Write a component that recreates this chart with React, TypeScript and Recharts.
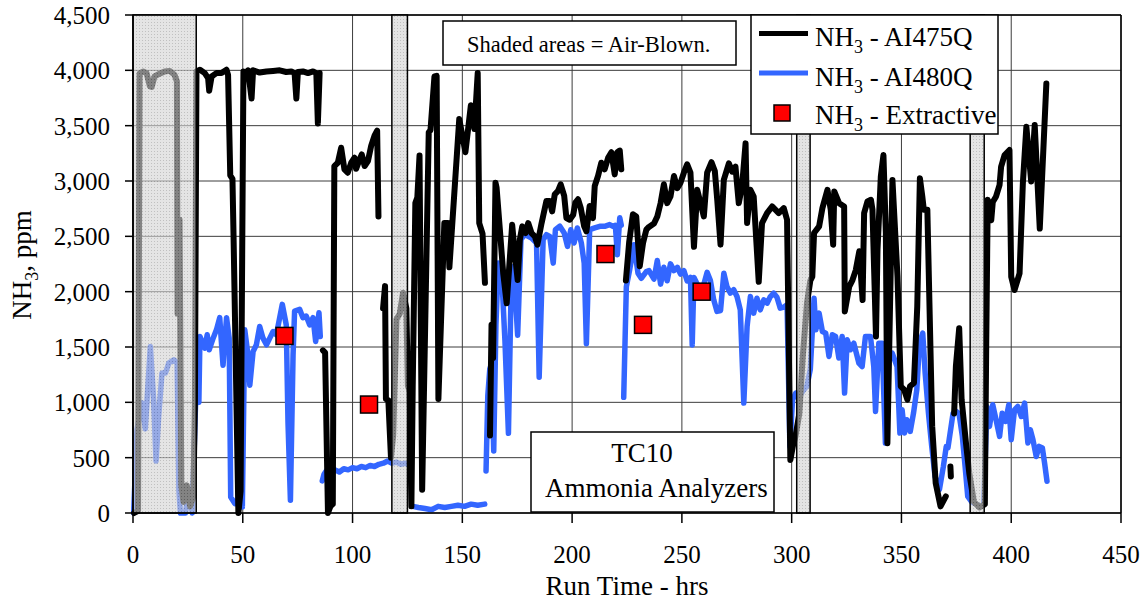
import { ComposedChart, Line, Scatter, XAxis, YAxis, CartesianGrid, ReferenceArea, ReferenceLine } from 'recharts';

type Pt = [number, number];

const hourTicks = [0, 50, 100, 150, 200, 250, 300, 350, 400, 450];
const ppmTicks = [0, 500, 1000, 1500, 2000, 2500, 3000, 3500, 4000, 4500];

// air-blown periods (hrs)
const airBlown: Pt[] = [[0, 28.8], [117.9, 125], [302.3, 308.4], [381.3, 387.7]];

// NH3 - AI475Q
const ai475Seg1: Pt[] = [[0.5, 0], [2.3, 20], [3.0, 3970], [4.6, 3990], [6.2, 3975], [7.7, 3855], [8.5, 3850], [9.8, 3945], [12.1, 3970], [14.4, 3990], [16.7, 3995], [18.9, 3960], [20, 3900], [20.3, 1800], [21.2, 2650], [22, 250], [23, 100], [24.5, 250], [26, 60], [27.5, 150], [28.2, 1000], [28.9, 3990], [30.5, 4005], [32.7, 3975], [34.2, 3930], [34.7, 3815], [35.8, 3945], [38, 3975], [40.3, 3975], [42.6, 4005], [43.3, 3960], [44.3, 3050], [45.3, 3020], [45.8, 2500], [48, 0], [49, 200], [50.3, 3990], [51.2, 3975], [52.4, 4000], [54, 3745], [54.7, 4000], [57.7, 3980], [60.8, 3990], [63.8, 3995], [66.8, 4000], [69.8, 3985], [72.1, 3990], [73.6, 3975], [74.4, 3745], [75.1, 3985], [77.4, 3990], [79.7, 3975], [82, 3990], [83.5, 3975], [84.2, 3520], [85, 3975]];
const ai475Seg2: Pt[] = [[86.5, 1470], [87.5, 1450], [88.8, 0], [89.9, 60], [91, 80], [91.7, 3135], [93.3, 3165], [94.8, 3300], [96.3, 3105], [97.8, 3075], [99.4, 3165], [100.9, 3210], [101.6, 3110], [103.2, 3195], [104.2, 3240], [105.5, 3135], [107, 3180], [108.5, 3320], [110, 3410], [111.2, 3455], [111.8, 2680]];
const ai475Seg3: Pt[] = [[113.9, 1850], [114.8, 2050], [115.2, 1030], [116.3, 1020], [117.5, 500], [118.5, 700], [120, 1750], [121.5, 1800], [123, 1990], [124.5, 1850], [125.2, 1150], [126, 1100], [126.8, 60], [127.4, 1140], [128.6, 2800], [129.5, 2850], [130.5, 3230], [131.7, 210], [134.7, 3440], [135.5, 3460], [137.3, 3945], [138.3, 3950], [139.1, 1030], [141.8, 2620], [143.4, 2620], [144.1, 2220], [148.6, 3560], [151.4, 3260], [153.9, 3685], [155.5, 3470], [157, 3975], [157.7, 2620], [159.2, 2525], [160.3, 2080]];
const ai475Seg4: Pt[] = [[162.6, 700], [163.3, 1700], [164, 1400], [165.1, 2985], [165.6, 2940], [167.1, 2560], [168.6, 2170], [170.2, 1895], [171.7, 2320], [172.7, 2605], [173.9, 2350], [175.2, 2105], [176.2, 2470], [177.3, 2590], [178.8, 2530], [180, 2620], [181.5, 2530], [183, 2500], [184.2, 2425], [186.1, 2620], [188.3, 2820], [189.8, 2820], [190.9, 2725], [192.1, 2880], [193.6, 2910], [194.8, 2970], [196.4, 2865], [197.4, 2665], [198.9, 2650], [200.5, 2695], [201.5, 2805], [202.7, 2835], [203.9, 2760], [205.5, 2590], [206.5, 2545], [208, 2775], [209.5, 2665], [210.3, 2955], [211.8, 3045], [213.3, 3165], [214.8, 3105], [216.4, 3210], [217.9, 3260], [219.4, 3060], [220.6, 3260], [221.7, 3275], [222.4, 3105]];
const ai475Seg5: Pt[] = [[224.5, 2100], [226, 2450], [227.7, 2700], [229.2, 2680], [230.8, 2230], [232.3, 2440], [233.8, 2560], [235, 2585], [237.3, 2615], [238.8, 2680], [240.3, 2800], [241.8, 2970], [243.3, 2800], [244.8, 2860], [246.4, 3045], [247.9, 2935], [249.4, 2985], [250.9, 3075], [252.4, 3150], [253.9, 3075], [255.5, 2405], [257, 2920], [258.5, 2800], [260, 2680], [261.5, 3075], [263.5, 3170], [265, 3090], [266.1, 2830], [267.6, 2425], [269.1, 3010], [271.4, 3160], [272.9, 3085], [274.4, 3130], [275.9, 2800], [277.4, 2950], [279, 3340], [279.7, 2620], [281.2, 2920], [282.7, 2860], [285, 2090], [286.5, 2620], [288.8, 2710], [291.1, 2770], [294.1, 2710], [296.4, 2755], [297.9, 2650], [299.4, 480], [300.5, 600], [301.7, 690], [303.5, 900], [305, 1400], [307, 1900], [308.5, 2100], [309.4, 2135], [310.2, 2530], [312.5, 2590], [314, 2755], [316.3, 2920], [317.8, 2740], [318.9, 2425], [319.4, 2905], [321.6, 2800], [323.9, 2770], [324.2, 1820], [326.2, 2045], [327.7, 2105], [329.2, 2195], [330.8, 2365], [332.3, 1925], [333, 2710], [334.5, 2815], [336.1, 2830], [336.8, 2740], [338.4, 1595], [339.1, 2380], [340.6, 3040], [341.8, 3235], [342.9, 2530], [343.6, 630], [345.9, 3010], [348.2, 2135], [349.7, 1145], [351.2, 1115], [352.7, 1025], [353.9, 1145], [355.7, 1175], [357.2, 1865], [358.4, 3025], [359.5, 2860], [360.2, 2740], [361.8, 2740], [364, 785], [365.6, 270], [367.8, 60], [370.2, 150]];
const ai475Seg6: Pt[] = [[372.3, 420], [372.5, 330]];
const ai475Seg7: Pt[] = [[374, 900], [374.8, 1325], [376.3, 1670], [377.4, 1025], [379.4, 630], [380.9, 360], [383, 100], [385.5, 50], [388, 80], [388.6, 1500], [389.3, 2830], [390.9, 2645], [391.6, 2810], [393.1, 2860], [394.7, 2965], [395.4, 3130], [397, 3235], [399.2, 3280], [400, 2135], [401.5, 2015], [403.8, 2165], [405.3, 2980], [406.9, 3490], [409.1, 2995], [410.7, 3505], [413, 2570], [416, 3880]];

// NH3 - AI480Q
const ai480Seg1: Pt[] = [[0.3, 0], [1.8, 750], [4.1, 995], [5.6, 760], [7.9, 1505], [9.4, 1025], [10.5, 470], [11.7, 875], [13.2, 1265], [14.8, 1265], [16.3, 1355], [18.6, 1385], [20.1, 1355], [20.9, 210], [21.6, 0], [23.9, 0], [25.5, 210], [27, 0], [28.5, 995], [30, 1000], [30.5, 1595], [32.7, 1490], [33.8, 1610], [34.7, 1475], [36.5, 1580], [38, 1655], [39.5, 1765], [41, 1335], [42.6, 1765], [43.8, 1580], [44.5, 145], [46.4, 85], [47.9, 115], [48.6, 1425], [49.8, 55], [50.9, 1655], [52.4, 1425], [53.2, 1155], [54.7, 1460], [56.2, 1520], [57.7, 1685], [59.2, 1580], [60.8, 1520], [62.3, 1580], [63.8, 1640], [65.3, 1610], [66.8, 1765], [68, 1885], [69.8, 1700], [70.6, 815], [71.7, 115], [72.9, 1425], [73.6, 1825], [75.9, 1840], [77.4, 1765], [78.9, 1780], [80.5, 1700], [82, 1765], [83.2, 1550], [84.7, 1810], [85.3, 1595]];
const ai480Seg2: Pt[] = [[86.2, 290], [87, 350], [88, 380], [89, 330], [90, 370], [92, 390], [94, 370], [96, 400], [98, 390], [100, 410], [102, 400], [104, 420], [106, 410], [108, 430], [110, 420], [112, 440], [114, 450], [116, 470], [118, 450], [120, 460], [122, 440], [124, 450], [126, 430]];
const ai480Seg3: Pt[] = [[127.5, 60], [130, 50], [133, 40], [136, 30], [139, 60], [142, 50], [145, 60], [148, 70], [151, 60], [154, 80], [157, 70], [160.2, 80]];
const ai480Seg4: Pt[] = [[160.8, 380], [161.6, 1060], [162.5, 1300], [163.3, 1350], [164.3, 560], [165.3, 1700], [166.4, 2258], [167.9, 2167], [169.4, 1560], [171, 720], [172.4, 2227], [173.6, 2136], [175.2, 1606], [176.7, 2470], [178.2, 2515], [180, 2500], [181.5, 2485], [183.8, 2440], [185, 1227], [186.8, 2470], [188.3, 2515], [189.8, 2500], [191.4, 2258], [192.4, 2560], [194.4, 2591], [196.4, 2530], [197.9, 2409], [199.4, 2560], [200.9, 2440], [202.4, 2576], [204.2, 2440], [205.5, 2258], [206.5, 1530], [208, 2560], [210.3, 2576], [212.6, 2591], [214.8, 2590], [217.1, 2606], [218.6, 2590], [219.7, 2600], [220.6, 2333], [221.7, 2667], [222.4, 2600]];
const ai480Seg5: Pt[] = [[223.5, 1045], [224.7, 2045], [226.2, 2197], [228.2, 2424], [230, 2167], [231.5, 2121], [233.8, 2182], [235, 2190], [237.3, 2114], [238.8, 2281], [240.3, 2068], [241.8, 2220], [243.3, 2098], [244.8, 2251], [246.4, 2190], [247.9, 2220], [249.4, 2159], [250.9, 2190], [252.4, 2098], [253.9, 2129], [254.7, 1519], [255.5, 2129], [257, 2068], [258.5, 2007], [260, 2068], [261.5, 2175], [263, 2100], [264.5, 1926], [266, 1821], [267.6, 1830], [269.1, 2167], [270.5, 2047], [272.1, 1987], [273.6, 2017], [275.1, 1956], [276.6, 1836], [278.2, 993], [279.7, 1686], [281.2, 1956], [282.7, 1806], [284.2, 1941], [285.7, 1836], [287.3, 1926], [288.8, 1896], [290.3, 1956], [291.8, 1987], [293.3, 1950], [294.8, 1851], [296.4, 1860], [297.9, 1881], [299.2, 602], [300.4, 1023], [301.9, 1084], [303.5, 1050], [305, 1100], [307, 1150], [308.5, 1300], [310.2, 1941], [311, 1655], [312.5, 1806], [314, 1640], [315.5, 1625], [317, 1415], [318.5, 1610], [320, 1595], [321.5, 1400], [323, 1595], [324.1, 1084], [325.3, 1565], [326.8, 1475], [328.3, 1535], [330.6, 1355], [332.1, 1324], [333.6, 1595], [335.9, 1595], [337.4, 1324], [338.2, 918], [339.7, 1535], [341.2, 1535], [342.7, 632], [344.3, 1445], [345.8, 1445], [348, 1324], [349.3, 722], [350.3, 933], [351.4, 722], [352.5, 843], [354, 737], [355.5, 903], [357, 1114], [358.2, 1535], [359.7, 1625], [360.8, 1264], [362.3, 903], [363.8, 602], [365.3, 331], [367.3, 211], [369.1, 421], [370.4, 600], [371.2, 590], [373.5, 900], [374.8, 920], [376.2, 900], [377.7, 700], [379, 420], [380.2, 150], [382, 100], [384, 80], [386, 60], [387.5, 75], [388.9, 963], [390.1, 782], [391.6, 978], [393.1, 842], [394.7, 692], [395.9, 902], [397.4, 827], [398.9, 978], [400, 662], [401.5, 932], [403, 963], [404.6, 872], [406.1, 993], [407.6, 632], [408.7, 752], [409.9, 662], [411.4, 511], [412.7, 602], [414.2, 587], [415.2, 451], [416.3, 286]];

// NH3 - Extractive samples
const extractive: Pt[] = [[69, 1600], [107.5, 980], [215.2, 2340], [232.3, 1700], [259, 2000]];

const toRows = (segs: Pt[][]) =>
  segs.flatMap((seg, i) => {
    const rows = seg.map(([hr, ppm]) => ({ hr, ppm }));
    if (i === 0) return rows;
    const prev = segs[i - 1];
    return [{ hr: (prev[prev.length - 1][0] + seg[0][0]) / 2, ppm: null }, ...rows];
  });

const ai475Data = toRows([ai475Seg1, ai475Seg2, ai475Seg3, ai475Seg4, ai475Seg5, ai475Seg6, ai475Seg7]);
const ai480Data = toRows([ai480Seg1, ai480Seg2, ai480Seg3, ai480Seg4, ai480Seg5]);
const extractiveData = extractive.map(([hr, ppm]) => ({ hr, ppm }));

const FONT = "'Liberation Serif', 'Times New Roman', serif";
const BLUE = '#3366FF';
const tickStyle = { fill: '#000', fontSize: 25, fontFamily: FONT };

const SquareMark = (props: any) => {
  const { cx, cy } = props;
  if (cx == null || cy == null) return null;
  return <rect x={cx - 8.5} y={cy - 8.5} width={17} height={17} fill="#FF0000" stroke="#000" strokeWidth={1.5} />;
};

const App = () => {
  return (
    <div style={{ position: 'absolute', left: 0, top: 0, width: 1147, height: 601, background: '#fff', fontFamily: FONT }}>
      <svg width={0} height={0} style={{ position: 'absolute' }}>
        <defs>
          <pattern id="airBlownFill" patternUnits="userSpaceOnUse" width={3} height={3}>
            <rect width={3} height={3} fill="#d4d4d4" />
            <rect x={1} y={1} width={1} height={1} fill="#9a9a9a" />
          </pattern>
        </defs>
      </svg>
      <ComposedChart width={1147} height={601} margin={{ top: 15, right: 26, bottom: 58, left: 0 }}>
        <CartesianGrid stroke="#3c3c3c" strokeWidth={1} />
        <XAxis
          dataKey="hr"
          type="number"
          domain={[0, 450]}
          ticks={hourTicks}
          interval={0}
          height={30}
          tickSize={10}
          tickMargin={22}
          tick={tickStyle}
          stroke="#000"
          strokeWidth={1.5}
        />
        <YAxis
          type="number"
          domain={[0, 4500]}
          ticks={ppmTicks}
          interval={0}
          width={133}
          tickSize={8}
          tickMargin={15}
          tick={tickStyle}
          tickFormatter={(v: number) => v.toLocaleString('en-US')}
          stroke="#000"
          strokeWidth={1.5}
        />
        <ReferenceLine y={4500} stroke="#000" strokeWidth={1.5} />
        <ReferenceLine x={450} stroke="#000" strokeWidth={1.5} />
        <Line data={ai480Data} dataKey="ppm" type="linear" stroke={BLUE} strokeWidth={5.5} strokeLinejoin="round" strokeLinecap="round" dot={false} activeDot={false} isAnimationActive={false} />
        <Line data={ai475Data} dataKey="ppm" type="linear" stroke="#000" strokeWidth={6} strokeLinejoin="round" strokeLinecap="round" dot={false} activeDot={false} isAnimationActive={false} />
        {airBlown.map(([x1, x2]) => (
          <ReferenceArea
            key={x1}
            x1={x1}
            x2={x2}
            y1={0}
            y2={4500}
            fill="url(#airBlownFill)"
            fillOpacity={0.62}
            stroke="#000"
            strokeWidth={1.5}
            strokeOpacity={1}
            zIndex={450}
          />
        ))}
        <Scatter data={extractiveData} dataKey="ppm" shape={SquareMark} isAnimationActive={false} />
      </ComposedChart>
      <svg width={1147} height={601} style={{ position: 'absolute', left: 0, top: 0, pointerEvents: 'none' }} fontFamily={FONT}>
        <rect x={443} y={21} width={293} height={44} fill="#fff" stroke="#000" strokeWidth={1.5} />
        <text x={467} y={52} fontSize={22.5}>Shaded areas = Air-Blown.</text>

        <rect x={751} y={15} width={247} height={119} fill="#fff" stroke="#000" strokeWidth={1.5} />
        <line x1={759} x2={808} y1={33.5} y2={33.5} stroke="#000" strokeWidth={5} />
        <text x={815} y={46} fontSize={27}>NH<tspan dy={7} fontSize={18}>3</tspan><tspan dy={-7}> - AI475Q</tspan></text>
        <line x1={759} x2={808} y1={73} y2={73} stroke={BLUE} strokeWidth={5} />
        <text x={815} y={86} fontSize={27}>NH<tspan dy={7} fontSize={18}>3</tspan><tspan dy={-7}> - AI480Q</tspan></text>
        <rect x={774} y={105} width={16} height={16} fill="#FF0000" stroke="#000" strokeWidth={1.5} />
        <text x={815} y={124} fontSize={27}>NH<tspan dy={7} fontSize={18}>3</tspan><tspan dy={-7}> - Extractive</tspan></text>

        <rect x={531} y={432} width={243} height={80} fill="#fff" stroke="#000" strokeWidth={1.5} />
        <text x={642} y={462} fontSize={27} textAnchor="middle">TC10</text>
        <text x={545} y={497} fontSize={27}>Ammonia Analyzers</text>

        <text x={627} y={595} fontSize={27} textAnchor="middle">Run Time - hrs</text>
        <text x={31} y={265} fontSize={27} textAnchor="middle" transform="rotate(-90 31 265)">
          NH<tspan dy={7} fontSize={18}>3</tspan><tspan dy={-7}>, ppm</tspan>
        </text>
      </svg>
    </div>
  );
};

export default App;
